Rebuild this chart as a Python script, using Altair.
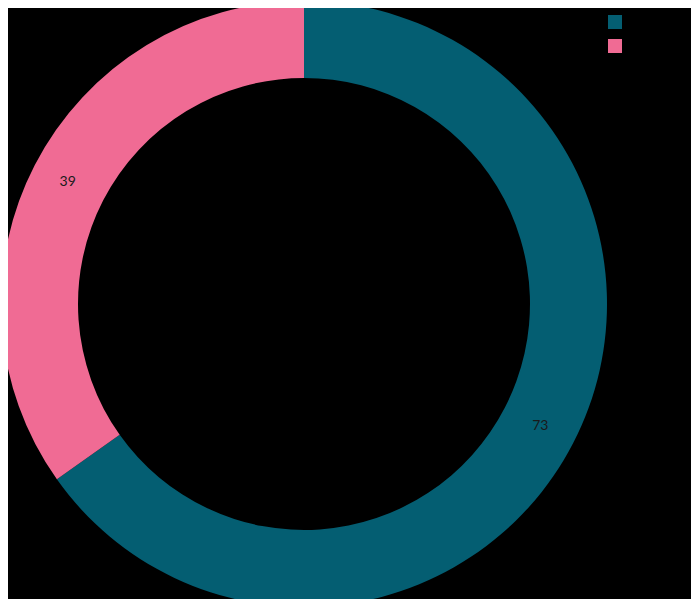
import altair as alt
import pandas as pd

categories = ["Category A", "Category B"]
values = [73, 39]
colors = ["#045e72", "#f06b94"]

df = pd.DataFrame({"category": categories, "value": values, "order": [0, 1]})

base = alt.Chart(df).encode(
    theta=alt.Theta("value:Q", stack=True),
    order=alt.Order("order:Q"),
    x=alt.value(296),
    y=alt.value(296),
)

arc = base.mark_arc(outerRadius=303, innerRadius=226, stroke=None).encode(
    color=alt.Color(
        "category:N",
        scale=alt.Scale(domain=categories, range=colors),
        legend=alt.Legend(
            title=None,
            orient="none",
            legendX=600,
            legendY=7,
            symbolType="square",
            symbolSize=196,
            symbolStrokeWidth=0,
            rowPadding=10,
            labelColor="#000000",
            labelFontSize=13,
        ),
    )
)

text = base.mark_text(radius=266, fontSize=14, font="Lato", color="#1a1a1a").encode(
    text="value:Q"
)

chart = (
    alt.layer(arc, text)
    .properties(width=683, height=591, autosize="none", padding=0, background="#000000")
    .configure_view(stroke=None)
)

chart.save("out.html", embed_options={"renderer": "svg", "actions": False})
